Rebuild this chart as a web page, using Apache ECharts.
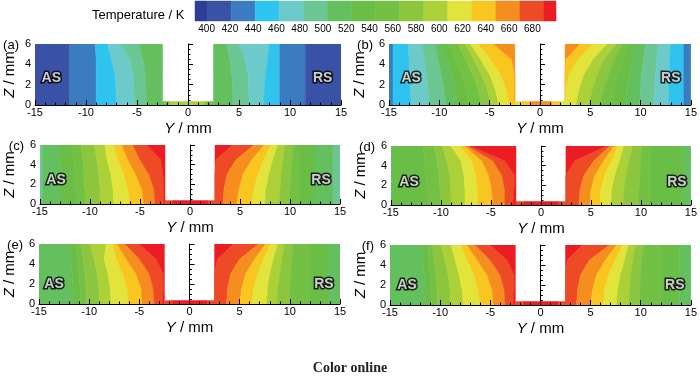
<!DOCTYPE html>
<html>
<head>
<meta charset="utf-8">
<script src="https://cdn.jsdelivr.net/npm/echarts@6/dist/echarts.min.js"></script>
<style>
html, body { margin: 0; padding: 0; background: #fff; }
#chart { width: 700px; height: 377px; }
</style>
</head>
<body>
<div id="chart"></div>
<script>
"use strict";
// contour levels (K) shown under the colour bar, and one colour per band (last one is > 680 K)
var levels = [400, 420, 440, 460, 480, 500, 520, 540, 560, 580, 600, 620, 640, 660, 680];
var levelColors = ["#2c3e95", "#3a52a6", "#3b7cc0", "#2ec4ef", "#6ccacb", "#6cc694", "#64bf5e", "#6abd45",
    "#72c044", "#8cc63f", "#acd037", "#e2e43c", "#f8c61f", "#f68d1f", "#ef4a26", "#ec1c24"];
var barEdges = [400, 410, 430, 450, 470, 490, 510, 530, 550, 570, 590, 610, 630, 650, 670, 690, 700];

// isotherm positions Y (mm) read at these heights Z (mm)
var zRows = [0, 1.5, 3, 4.5, 6];
var stripTop = 0.35;

// each row: [band, right edge of the band at each zRows]; AS bands start at Y=-15, RS bands at Y=2.5
var aAS = [
    [1, -11.6, -11.6, -11.6, -11.6, -11.6],
    [2, -9.0, -9.0, -9.0, -9.0, -9.1],
    [3, -7.0, -7.05, -7.15, -7.5, -7.9],
    [4, -5.2, -5.3, -5.35, -5.7, -6.6],
    [5, -4.05, -4.1, -4.15, -4.4, -4.8],
    [6, -2.5, -2.5, -2.5, -2.5, -2.5]
];
var aRS = [
    [6, 4.4, 4.4, 4.3, 4.1, 3.8],
    [5, 6.0, 5.95, 5.9, 5.6, 5.0],
    [4, 7.4, 7.5, 7.6, 7.8, 8.0],
    [3, 9.0, 9.0, 9.0, 9.0, 9.0],
    [2, 11.5, 11.5, 11.5, 11.5, 11.5],
    [1, 15, 15, 15, 15, 15]
];
var aStrip = [[8, -2.5, -1.8], [10, -1.8, 1.7], [8, 1.7, 2.5]];

var bAS = [
    [2, -14.6, -14.6, -14.6, -14.6, -14.6],
    [3, -12.8, -12.85, -12.9, -13.0, -13.1],
    [4, -11.0, -11.1, -11.3, -11.5, -11.7],
    [5, -9.3, -9.5, -9.8, -10.1, -10.4],
    [6, -8.2, -8.4, -8.8, -9.3, -9.8],
    [7, -7.0, -7.3, -7.8, -8.4, -9.0],
    [8, -5.8, -6.1, -6.7, -7.4, -8.1],
    [9, -4.9, -5.2, -5.8, -6.6, -7.4],
    [10, -4.1, -4.4, -5.0, -5.9, -6.9],
    [11, -3.0, -3.3, -3.9, -4.9, -6.1],
    [12, -2.5, -2.5, -2.5, -2.8, -4.6],
    [13, -2.5, -2.5, -2.5, -2.5, -2.5]
];
var bRS = [
    [13, 2.5, 2.5, 2.5, 2.6, 4.0],
    [12, 2.5, 2.6, 2.9, 3.8, 5.3],
    [11, 3.6, 3.9, 4.4, 5.3, 6.7],
    [10, 4.9, 5.2, 5.7, 6.4, 7.6],
    [9, 6.0, 6.3, 6.8, 7.4, 8.2],
    [8, 7.2, 7.4, 7.8, 8.3, 8.8],
    [7, 8.5, 8.6, 8.9, 9.2, 9.5],
    [6, 9.9, 10.0, 10.1, 10.3, 10.5],
    [5, 11.3, 11.4, 11.5, 11.6, 11.8],
    [4, 12.8, 12.8, 12.9, 12.9, 13.0],
    [3, 14.3, 14.3, 14.3, 14.3, 14.3],
    [2, 15, 15, 15, 15, 15]
];
var bStrip = [[11, -2.5, -1.8], [12, -1.8, -1.0], [13, -1.0, 1.2], [12, 1.2, 2.0], [11, 2.0, 2.5]];

var cAS = [
    [5, -14.75, -14.75, -14.75, -14.75, -14.75],
    [6, -12.9, -12.9, -12.9, -13.0, -13.0],
    [7, -11.4, -11.4, -11.5, -11.6, -11.7],
    [8, -10.5, -10.5, -10.6, -10.7, -10.9],
    [9, -9.0, -9.0, -9.1, -9.3, -9.6],
    [10, -7.6, -7.7, -7.9, -8.3, -8.5],
    [11, -6.0, -6.2, -6.6, -7.2, -7.6],
    [12, -4.6, -4.8, -5.4, -6.2, -6.8],
    [13, -3.5, -3.6, -4.1, -5.0, -5.7],
    [14, -2.6, -2.6, -2.7, -2.9, -4.3],
    [15, -2.5, -2.5, -2.5, -2.5, -2.5]
];
var cRS = [
    [15, 2.5, 2.5, 2.5, 2.6, 4.3],
    [14, 3.3, 3.4, 3.7, 4.6, 6.4],
    [13, 4.7, 4.9, 5.3, 6.2, 7.4],
    [12, 6.2, 6.4, 6.8, 7.4, 8.1],
    [11, 7.5, 7.6, 7.9, 8.3, 8.8],
    [10, 8.9, 9.0, 9.1, 9.3, 9.5],
    [9, 10.0, 10.0, 10.1, 10.2, 10.3],
    [8, 11.0, 11.0, 11.0, 11.0, 11.0],
    [7, 12.4, 12.4, 12.4, 12.4, 12.4],
    [6, 14.3, 14.3, 14.3, 14.3, 14.3],
    [5, 15, 15, 15, 15, 15]
];
var hotStrip = [[14, -2.5, -1.7], [15, -1.7, 1.8], [14, 1.8, 2.5]];

var dAS = [
    [6, -14.7, -14.7, -14.7, -14.7, -14.7],
    [7, -11.4, -11.4, -11.5, -11.6, -11.8],
    [8, -10.1, -10.1, -10.2, -10.4, -10.7],
    [9, -9.0, -9.0, -9.1, -9.4, -9.9],
    [10, -7.6, -7.6, -7.7, -8.0, -9.0],
    [11, -6.3, -6.3, -6.5, -6.9, -8.1],
    [12, -4.8, -4.9, -5.2, -5.9, -7.6],
    [13, -3.6, -3.6, -3.9, -4.8, -7.3],
    [14, -2.8, -2.7, -2.6, -3.6, -7.0],
    [15, -2.5, -2.5, -2.5, -2.5, -2.5]
];
var dRS = [
    [15, 2.5, 2.5, 2.5, 3.4, 6.6],
    [14, 3.8, 3.9, 4.3, 5.3, 6.9],
    [13, 4.9, 5.0, 5.4, 6.3, 7.3],
    [12, 5.9, 6.0, 6.4, 7.1, 7.7],
    [11, 7.0, 7.1, 7.4, 7.9, 8.3],
    [10, 8.2, 8.3, 8.5, 8.8, 9.2],
    [9, 9.8, 9.8, 9.9, 10.0, 10.1],
    [8, 11.0, 11.0, 11.0, 11.0, 11.0],
    [7, 14.2, 14.2, 14.2, 14.2, 14.2],
    [6, 15, 15, 15, 15, 15]
];

var eAS = [
    [6, -11.6, -11.6, -11.7, -11.8, -11.9],
    [7, -10.9, -10.9, -11.0, -11.1, -11.3],
    [8, -10.3, -10.3, -10.4, -10.6, -10.8],
    [9, -9.0, -9.0, -9.2, -9.5, -9.9],
    [10, -7.8, -7.9, -8.1, -8.5, -8.3],
    [11, -6.1, -6.2, -6.6, -7.3, -7.6],
    [12, -4.7, -4.8, -5.3, -6.3, -7.2],
    [13, -3.5, -3.6, -4.0, -5.0, -6.4],
    [14, -2.7, -2.6, -2.6, -3.3, -5.0],
    [15, -2.5, -2.5, -2.5, -2.5, -2.5]
];
var eRS = [
    [15, 2.5, 2.5, 2.5, 2.8, 4.4],
    [14, 3.7, 3.8, 4.1, 5.0, 6.9],
    [13, 5.0, 5.2, 5.6, 6.5, 7.6],
    [12, 6.2, 6.4, 6.8, 7.4, 8.1],
    [11, 7.7, 7.8, 8.0, 8.4, 8.8],
    [10, 8.7, 8.8, 9.0, 9.2, 9.5],
    [9, 10.0, 10.0, 10.1, 10.2, 10.3],
    [8, 12.0, 12.0, 12.0, 12.0, 12.0],
    [7, 13.8, 13.8, 13.8, 13.8, 13.8],
    [6, 15, 15, 15, 15, 15]
];

var fAS = [
    [6, -11.5, -11.5, -11.6, -11.7, -11.8],
    [7, -10.9, -10.9, -11.0, -11.1, -11.2],
    [8, -10.3, -10.3, -10.4, -10.6, -10.8],
    [9, -9.0, -9.0, -9.2, -9.5, -9.9],
    [10, -7.7, -7.8, -8.1, -8.5, -8.9],
    [11, -6.0, -6.2, -6.6, -7.3, -7.9],
    [12, -4.7, -4.8, -5.3, -6.3, -7.3],
    [13, -3.5, -3.6, -4.0, -5.0, -6.5],
    [14, -2.7, -2.6, -2.6, -3.3, -5.0],
    [15, -2.5, -2.5, -2.5, -2.5, -2.5]
];
var fRS = [
    [15, 2.5, 2.5, 2.5, 2.7, 4.2],
    [14, 3.6, 3.7, 4.0, 4.9, 6.9],
    [13, 5.0, 5.2, 5.6, 6.5, 7.6],
    [12, 6.3, 6.4, 6.8, 7.5, 8.2],
    [11, 7.6, 7.7, 8.0, 8.4, 8.8],
    [10, 8.8, 8.9, 9.0, 9.2, 9.5],
    [9, 9.9, 9.9, 10.0, 10.1, 10.3],
    [8, 12.0, 12.0, 12.0, 12.0, 12.0],
    [7, 13.9, 13.9, 13.9, 13.9, 13.9],
    [6, 15, 15, 15, 15, 15]
];

// where the AS / RS tags sit in each panel [Y, Z]
var sideTags = [
    [[-13.4, 2.6], [13.2, 2.6]],
    [[-12.8, 2.6], [13.0, 2.6]],
    [[-13.4, 2.4], [13.1, 2.4]],
    [[-13.2, 2.3], [13.6, 2.3]],
    [[-13.5, 2.0], [13.4, 2.0]],
    [[-13.3, 2.0], [13.4, 2.0]]
];

var NARROW = "'Liberation Sans Narrow', 'Arial Narrow', 'Liberation Sans', Arial, sans-serif";
var SANS = "'Liberation Sans', Arial, sans-serif";

var panels = [
    {tag: "(a)", AS: aAS, RS: aRS, strip: aStrip, box: {left: 35, top: 44, width: 306, height: 61}, zGap: 18},
    {tag: "(b)", AS: bAS, RS: bRS, strip: bStrip, box: {left: 389, top: 44, width: 302, height: 61}, zGap: 22},
    {tag: "(c)", AS: cAS, RS: cRS, strip: hotStrip, box: {left: 40, top: 145, width: 300, height: 59}, zGap: 23},
    {tag: "(d)", AS: dAS, RS: dRS, strip: hotStrip, box: {left: 391, top: 146, width: 301, height: 59}, zGap: 23},
    {tag: "(e)", AS: eAS, RS: eRS, strip: hotStrip, box: {left: 39, top: 244, width: 301, height: 60}, zGap: 22},
    {tag: "(f)", AS: fAS, RS: fRS, strip: hotStrip, box: {left: 390, top: 245, width: 301, height: 60}, zGap: 22}
];

function fieldShapes(asBands, rsBands, strip) {
    var shapes = [];
    function addSide(bands, start) {
        var prev = zRows.map(function () { return start; });
        bands.forEach(function (b) {
            var edge = b.slice(1);
            var pts = [];
            var i;
            for (i = 0; i < zRows.length; i++) pts.push([prev[i], zRows[i]]);
            for (i = zRows.length - 1; i >= 0; i--) pts.push([edge[i], zRows[i]]);
            shapes.push({c: b[0], pts: pts});
            prev = edge;
        });
    }
    addSide(asBands, -15);
    addSide(rsBands, 2.5);
    strip.forEach(function (s) {
        shapes.push({c: s[0], pts: [[s[1], 0], [s[2], 0], [s[2], stripTop], [s[1], stripTop]]});
    });
    return shapes;
}

function renderField(shapes) {
    return function (params, api) {
        var s = shapes[params.dataIndex];
        var col = levelColors[s.c];
        return {
            type: "polygon",
            shape: {points: s.pts.map(function (p) { return api.coord(p); })},
            style: {fill: col, stroke: col, lineWidth: 0.5}
        };
    };
}

// AS / RS tag: a black halo layer under a plain white layer
function tagSeries(i, halo) {
    return {
        type: "scatter", xAxisIndex: i, yAxisIndex: i, z: halo ? 20 : 21, silent: true,
        symbolSize: 0, itemStyle: {color: "transparent"},
        data: [sideTags[i][0].concat(["AS"]), sideTags[i][1].concat(["RS"])],
        label: {
            show: true, position: "inside", fontSize: 14, fontWeight: "bold", fontFamily: NARROW,
            color: halo ? "#000" : "#fff",
            textBorderColor: halo ? "#000" : "transparent", textBorderWidth: halo ? 3 : 0,
            formatter: function (q) { return q.value[2]; }
        }
    };
}

var grids = [], xAxes = [], yAxes = [], series = [], graphics = [];

panels.forEach(function (p, i) {
    grids.push(p.box);
    xAxes.push({
        gridIndex: i, type: "value", min: -15, max: 15, interval: 5, z: 10,
        axisLine: {lineStyle: {color: "#000", width: 1}},
        axisTick: {inside: true, length: 5, lineStyle: {color: "#000"}},
        minorTick: {show: true, splitNumber: 5, length: 2.5, lineStyle: {color: "#000"}},
        splitLine: {show: false},
        axisLabel: {color: "#000", fontSize: 11, margin: 2, fontFamily: NARROW},
        name: "{i|Y} / mm", nameLocation: "middle", nameGap: 16,
        nameTextStyle: {color: "#000", fontSize: 15, fontFamily: SANS,
            rich: {i: {fontStyle: "italic", fontSize: 15, fontFamily: SANS, color: "#000"}}}
    });
    yAxes.push({
        gridIndex: i, type: "value", min: 0, max: 6, interval: 2, z: 10,
        axisLine: {lineStyle: {color: "#000", width: 1}},
        axisTick: {inside: true, length: 5, lineStyle: {color: "#000"}},
        minorTick: {show: true, splitNumber: 4, length: 2.5, lineStyle: {color: "#000"}},
        splitLine: {show: false},
        axisLabel: {color: "#000", fontSize: 11, margin: 4, fontFamily: NARROW},
        name: "{i|Z} / mm", nameLocation: "middle", nameRotate: 90, nameGap: p.zGap,
        nameTextStyle: {color: "#000", fontSize: 15, fontFamily: SANS,
            rich: {i: {fontStyle: "italic", fontSize: 15, fontFamily: SANS, color: "#000"}}}
    });
    var shapes = fieldShapes(p.AS, p.RS, p.strip);
    series.push({
        type: "custom", xAxisIndex: i, yAxisIndex: i, clip: true, z: 1, silent: true,
        renderItem: renderField(shapes),
        data: shapes.map(function (s) { return [s.pts[0][0], s.pts[0][1], s.c]; })
    });
    series.push(tagSeries(i, true));
    series.push(tagSeries(i, false));
    graphics.push({
        type: "text", x: p.box.left - 16, y: p.box.top + 1,
        style: {text: p.tag, fontSize: 13, fontFamily: NARROW, fill: "#000", align: "right", verticalAlign: "middle"}
    });
});

// colour bar
var barGrid = grids.length;
grids.push({left: 195, top: 1, width: 361, height: 20});
xAxes.push({gridIndex: barGrid, type: "value", min: barEdges[0], max: barEdges[barEdges.length - 1], show: false});
yAxes.push({gridIndex: barGrid, type: "value", min: 0, max: 1, show: false});
series.push({
    type: "custom", xAxisIndex: barGrid, yAxisIndex: barGrid, silent: true,
    renderItem: function (params, api) {
        var i = params.dataIndex;
        var a = api.coord([barEdges[i], 1]);
        var b = api.coord([barEdges[i + 1], 0]);
        return {
            type: "rect",
            shape: {x: a[0], y: a[1], width: b[0] - a[0], height: b[1] - a[1]},
            style: {fill: levelColors[i], stroke: levelColors[i], lineWidth: 0.5}
        };
    },
    data: levelColors.map(function (c, i) { return [barEdges[i], barEdges[i + 1], i]; })
});

var labelGrid = grids.length;
grids.push({left: 195, top: 1, width: 349, height: 20});
xAxes.push({
    gridIndex: labelGrid, type: "category", data: levels.map(String),
    axisLine: {show: false}, axisTick: {show: false}, splitLine: {show: false},
    axisLabel: {color: "#000", fontSize: 10, margin: 3, fontFamily: NARROW, interval: 0}
});
yAxes.push({gridIndex: labelGrid, type: "value", show: false});
series.push({type: "line", xAxisIndex: labelGrid, yAxisIndex: labelGrid, data: []});

graphics.push({
    type: "text", left: 92, top: 9,
    style: {text: "Temperature / K", fontSize: 13, fontFamily: SANS, fill: "#000"}
});
graphics.push({
    type: "text", x: 350, y: 361,
    style: {text: "Color online", fontSize: 14, fontWeight: "bold", fontFamily: "'Liberation Serif', 'Times New Roman', serif",
        fill: "#222", align: "center"}
});

var chart = echarts.init(document.getElementById("chart"));
chart.setOption({
    animation: false,
    backgroundColor: "#fff",
    grid: grids,
    xAxis: xAxes,
    yAxis: yAxes,
    series: series,
    graphic: graphics
});
</script>
</body>
</html>
